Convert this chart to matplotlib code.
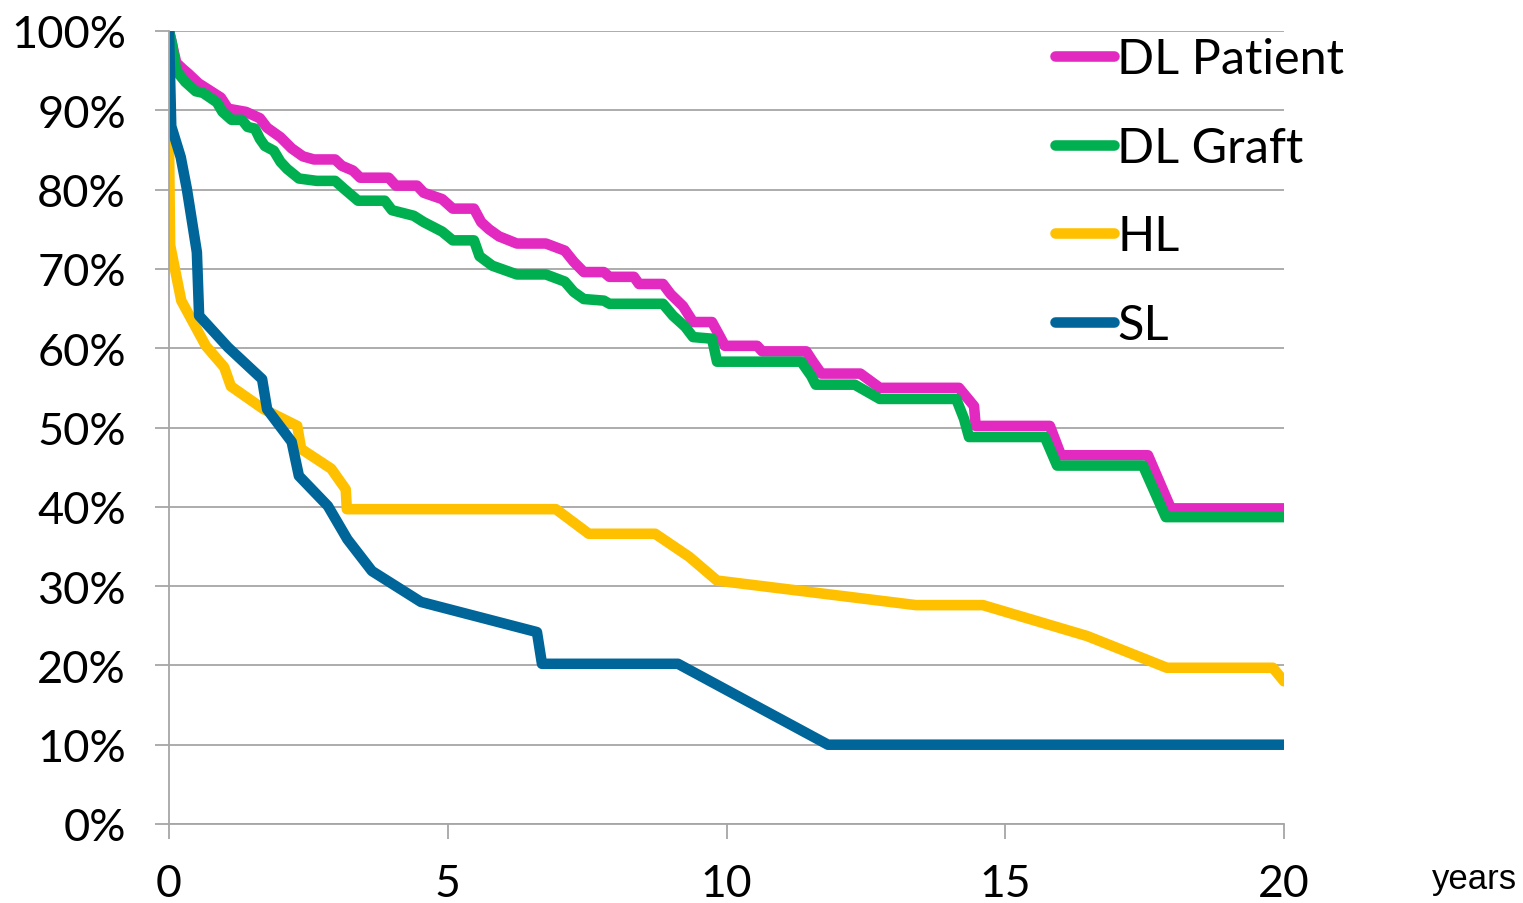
import matplotlib
matplotlib.use("Agg")
import matplotlib.pyplot as plt

# ---- data (years, survival %) ----
dlp_t = [0, 0.05, 0.13, 0.25, 0.35, 0.53, 0.93, 1.06, 1.38, 1.63, 1.76, 2.0, 2.2, 2.4, 2.6, 2.98,
         3.1, 3.3, 3.43, 3.94, 4.07, 4.45, 4.57, 4.9, 5.09, 5.47, 5.6, 5.74, 5.92, 6.24, 6.76,
         7.1, 7.26, 7.44, 7.8, 7.9, 8.34, 8.43, 8.86, 9.0, 9.22, 9.4, 9.74, 9.88, 9.97, 10.55,
         10.64, 11.43, 11.55, 11.7, 12.4, 12.75, 14.17, 14.44, 14.47, 15.8, 16.0, 17.56, 17.97, 20]
dlp_s = [100, 98.5, 96.0, 95.2, 94.6, 93.4, 91.6, 90.2, 89.8, 89.0, 87.8, 86.6, 85.2, 84.2, 83.8, 83.8,
         83.0, 82.4, 81.5, 81.5, 80.5, 80.5, 79.6, 78.8, 77.6, 77.6, 75.9, 75.0, 74.1, 73.2, 73.2,
         72.3, 70.9, 69.6, 69.6, 69.0, 69.0, 68.1, 68.1, 66.8, 65.3, 63.3, 63.3, 61.5, 60.3, 60.3,
         59.6, 59.6, 58.3, 56.8, 56.8, 55.0, 55.0, 52.7, 50.2, 50.2, 46.5, 46.5, 39.8, 39.8]

dlg_t = [0, 0.05, 0.13, 0.29, 0.48, 0.61, 0.86, 0.96, 1.12, 1.31, 1.41, 1.54, 1.63, 1.72, 1.88, 2.0,
         2.12, 2.33, 2.65, 2.98, 3.14, 3.39, 3.87, 4.0, 4.39, 4.57, 4.9, 5.09, 5.47, 5.57, 5.8,
         6.24, 6.76, 7.1, 7.26, 7.44, 7.8, 7.9, 8.86, 9.04, 9.26, 9.4, 9.74, 9.83, 11.34, 11.52,
         11.6, 12.3, 12.75, 14.12, 14.26, 14.35, 15.71, 15.93, 17.47, 17.88, 20]
dlg_s = [100, 98.5, 95.0, 93.6, 92.4, 92.2, 91.0, 89.8, 88.8, 88.8, 87.9, 87.7, 86.4, 85.5, 84.9, 83.5,
         82.6, 81.4, 81.1, 81.1, 80.1, 78.6, 78.6, 77.4, 76.7, 75.9, 74.7, 73.6, 73.6, 71.6, 70.4,
         69.3, 69.3, 68.4, 67.1, 66.2, 66.0, 65.6, 65.6, 64.1, 62.7, 61.4, 61.2, 58.3, 58.3, 56.5,
         55.4, 55.4, 53.6, 53.6, 51.1, 48.8, 48.8, 45.2, 45.2, 38.7, 38.7]

hl_t = [0, 0.02, 0.22, 0.66, 0.99, 1.11, 1.70, 2.30, 2.37, 2.91, 3.17, 3.19, 6.94, 7.53, 8.72,
        9.33, 9.83, 13.4, 14.6, 16.47, 17.9, 19.8, 20]
hl_s = [86, 73, 66, 60.3, 57.6, 55.2, 52.3, 50.2, 47.3, 44.8, 42.2, 39.7, 39.7, 36.6, 36.6,
        33.7, 30.7, 27.6, 27.6, 23.7, 19.7, 19.7, 18.0]

sl_t = [0, 0.04, 0.21, 0.32, 0.50, 0.54, 1.06, 1.67, 1.76, 2.2, 2.33, 2.85, 3.2, 3.64, 4.52,
        6.6, 6.69, 9.13, 11.82, 20]
sl_s = [100, 88, 84.1, 80.1, 72.1, 64.1, 60.1, 56.1, 52.3, 48.2, 43.9, 40.1, 35.9, 31.9, 28.0,
        24.2, 20.2, 20.2, 10.0, 10.0]

series_names = ["DL Patient", "DL Graft", "HL", "SL"]
series_colors = ["#E229C0", "#00B050", "#FFC000", "#00669A"]

x_ticks = [0, 5, 10, 15, 20]
y_ticks = [0, 10, 20, 30, 40, 50, 60, 70, 80, 90, 100]
y_labels = [f"{v}%" for v in y_ticks]

FONT = "Lato"
GRID = "#A6A6A6"

W, H = 1523, 904
fig = plt.figure(figsize=(W / 100, H / 100), dpi=100)
ax = fig.add_axes([169 / W, 1 - 825 / H, (1284 - 169) / W, (825 - 32) / H])

for (t, s), name, col in zip([(dlp_t, dlp_s), (dlg_t, dlg_s), (hl_t, hl_s), (sl_t, sl_s)],
                             series_names, series_colors):
    ax.plot(t, s, color=col, lw=7.6, label=name, solid_joinstyle="round", solid_capstyle="round")

ax.set_xlim(0, 20)
ax.set_ylim(0, 100)
ax.set_xticks(x_ticks)
ax.set_xticklabels([str(v) for v in x_ticks], fontsize=32, fontfamily=FONT)
ax.set_yticks(y_ticks)
ax.set_yticklabels(y_labels, fontsize=32.5, fontfamily=FONT)

ax.yaxis.grid(True, color=GRID, lw=1.3)
ax.set_axisbelow(True)
for sp in ["top", "right"]:
    ax.spines[sp].set_visible(False)
for sp in ["left", "bottom"]:
    ax.spines[sp].set_color(GRID)
    ax.spines[sp].set_linewidth(1.3)
ax.tick_params(axis="y", length=10, width=1.3, color=GRID, pad=21)
ax.tick_params(axis="x", length=11, width=1.3, color=GRID, pad=17)

leg = ax.legend(loc="upper left", bbox_to_anchor=(1055 / W, 1 - 38 / H),
                bbox_transform=fig.transFigure, frameon=False,
                prop={"family": FONT, "size": 35}, handlelength=1.22,
                handletextpad=0.06, labelspacing=0.92, borderpad=0, borderaxespad=0)

fig.text(1474 / W, 1 - 880 / H, "years", fontsize=25, fontfamily="Liberation Sans",
         ha="center", va="center")

fig.savefig("out.png", dpi=100)
